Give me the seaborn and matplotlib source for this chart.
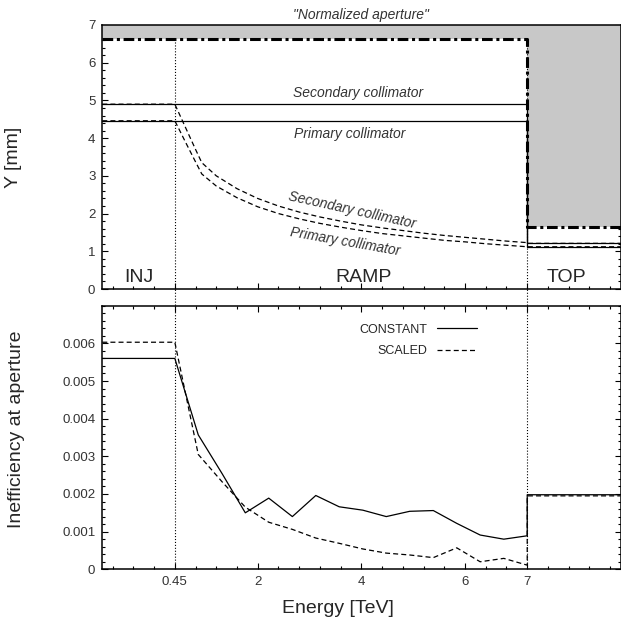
import matplotlib
matplotlib.use('Agg')
import matplotlib.pyplot as plt
from matplotlib.lines import Line2D
import pandas as pd
import seaborn as sns

# x axis = position along the cycle, ticks labelled with beam energy
energy_tick_pos = [0, 4, 9, 14, 17]
energy_tick_labels = ['0.45', '2', '4', '6', '7']
x_range = (-3.5, 21.5)
phase_names = ['INJ', 'RAMP', 'TOP']
phase_label_x = [-1.75, 9.1, 18.9]

# top panel: half gaps in mm
step_x = [-3.5, 17, 17, 21.5]
aperture_y = [6.63, 6.63, 1.65, 1.65]
secondary_const = [4.90, 4.90, 1.21, 1.21]
primary_const = [4.46, 4.46, 1.12, 1.12]

ramp_x = [-3.5, 0, 0.5, 1.0, 1.3, 2, 3, 4, 5, 6, 7, 8, 9, 10, 11, 12, 13, 14, 15, 16, 17, 17, 21.5]
secondary_scaled = [4.90, 4.90, 4.30, 3.70, 3.35, 3.00, 2.66, 2.40, 2.20, 2.04, 1.91, 1.80, 1.70,
                    1.62, 1.55, 1.48, 1.42, 1.37, 1.32, 1.27, 1.23, 1.21, 1.21]
primary_scaled = [4.46, 4.46, 3.91, 3.37, 3.05, 2.73, 2.42, 2.18, 2.00, 1.86, 1.74, 1.64, 1.55,
                  1.47, 1.41, 1.35, 1.29, 1.25, 1.20, 1.16, 1.12, 1.12, 1.12]

# bottom panel: inefficiency at aperture
ineff_x = [-3.5, 0, 1.13, 2.27, 3.4, 4.53, 5.67, 6.8, 7.93, 9.07, 10.2, 11.33,
           12.47, 13.6, 14.73, 15.87, 17, 17, 21.5]
ineff_constant = [0.00560, 0.00560, 0.00357, 0.00255, 0.00150, 0.00189, 0.00140, 0.00196,
                  0.00166, 0.00157, 0.00140, 0.00154, 0.00156, 0.00122, 0.00091, 0.00080,
                  0.00089, 0.00198, 0.00198]
ineff_scaled = [0.00603, 0.00603, 0.00305, 0.00233, 0.00165, 0.00125, 0.00106, 0.00083,
                0.00069, 0.00054, 0.00043, 0.00038, 0.00031, 0.00057, 0.00020, 0.00029,
                0.00011, 0.00195, 0.00195]

ineff_df = pd.concat([
    pd.DataFrame({'x': ineff_x, 'ineff': ineff_constant, 'mode': 'CONSTANT'}),
    pd.DataFrame({'x': ineff_x, 'ineff': ineff_scaled, 'mode': 'SCALED'}),
], ignore_index=True)

sns.set_style('ticks')
plt.rcParams['font.family'] = ['Liberation Sans', 'DejaVu Sans']
plt.rcParams['axes.linewidth'] = 1.1

fig = plt.figure(figsize=(6.21, 6.23), dpi=100)
ax1 = fig.add_axes([0.1647, 0.5361, 0.8345, 0.4238])
ax2 = fig.add_axes([0.1647, 0.0862, 0.8345, 0.4231])

dash = (0, (4, 2.5))

# ---- top panel
ax1.fill_between(step_x, aperture_y, 7, color='#c8c8c8', lw=0)
ax1.plot(step_x, aperture_y, color='k', lw=2.2, ls=(0, (3.5, 1.2, 1, 1.2)))
ax1.plot(step_x, secondary_const, color='k', lw=0.9)
ax1.plot(step_x, primary_const, color='k', lw=0.9)
ax1.plot(ramp_x, secondary_scaled, color='k', lw=0.9, ls=dash)
ax1.plot(ramp_x, primary_scaled, color='k', lw=0.9, ls=dash)
for xv in [energy_tick_pos[0], energy_tick_pos[-1]]:
    ax1.plot([xv, xv], [aperture_y[0], -0.45], color='k', lw=0.8, ls=':', clip_on=False)

for name, xp in zip(phase_names, phase_label_x):
    ax1.text(xp, 0.19, name, ha='center', va='baseline', fontsize=14)

ital = dict(fontsize=10, style='italic', color='#333333')
ax1.text(9.0, 7.16, '"Normalized aperture"', ha='center', va='baseline', **ital)
ax1.text(8.83, 5.1, 'Secondary collimator', ha='center', va='baseline', **ital)
ax1.text(8.43, 4.0, 'Primary collimator', ha='center', va='baseline', **ital)
ax1.text(8.57, 2.1, 'Secondary collimator', ha='center', va='center',
         rotation=-12.5, rotation_mode='anchor', **ital)
ax1.text(8.23, 1.24, 'Primary collimator', ha='center', va='center',
         rotation=-10, rotation_mode='anchor', **ital)

ax1.set_xlim(*x_range)
ax1.set_ylim(0, 7)
ax1.set_xticks(energy_tick_pos)
ax1.set_xticks(range(-3, 22), minor=True)
ax1.set_xticklabels([])
ax1.set_yticks(range(0, 8))
ax1.set_yticks([v / 5 for v in range(0, 36)], minor=True)
ax1.set_ylabel('Y [mm]', fontsize=14)
ax1.yaxis.set_label_coords(-0.155, 0.5)

# ---- bottom panel
sns.lineplot(data=ineff_df, x='x', y='ineff', style='mode', ax=ax2, color='k', lw=0.9,
             dashes={'CONSTANT': '', 'SCALED': (4, 2.5)}, sort=False, estimator=None,
             legend=False)
for xv in [energy_tick_pos[0], energy_tick_pos[-1]]:
    ax2.axvline(xv, color='k', lw=0.8, ls=':')

handles = [Line2D([], [], color='k', lw=0.9),
           Line2D([], [], color='k', lw=0.9, ls=dash)]
ax2.legend(handles, ['CONSTANT', 'SCALED'], loc='upper right', bbox_to_anchor=(0.745, 0.975),
           frameon=False, markerfirst=False, handlelength=3.2, fontsize=9, labelspacing=0.75)

ax2.set_xlim(*x_range)
ax2.set_ylim(0, 0.007)
ax2.set_xticks(energy_tick_pos)
ax2.set_xticks(range(-3, 22), minor=True)
ax2.set_xticklabels(energy_tick_labels)
ax2.set_yticks([0, 0.001, 0.002, 0.003, 0.004, 0.005, 0.006])
ax2.set_yticklabels(['0', '0.001', '0.002', '0.003', '0.004', '0.005', '0.006'])
ax2.set_yticks([v * 0.0002 for v in range(0, 36)], minor=True)
ax2.set_xlabel('Energy [TeV]', fontsize=14)
ax2.set_ylabel('Inefficiency at aperture', fontsize=14)
ax2.xaxis.set_label_coords(0.455, -0.115)
ax2.yaxis.set_label_coords(-0.15, 0.53)

for ax in (ax1, ax2):
    ax.tick_params(which='both', direction='in', top=True, right=True, width=0.8,
                   labelsize=9.5, pad=5, colors='k', labelcolor='#333333')
    ax.tick_params(which='major', length=4)
    ax.tick_params(which='minor', length=2.5)
    for s in ax.spines.values():
        s.set_color('k')

fig.savefig('out.png', dpi=100)
